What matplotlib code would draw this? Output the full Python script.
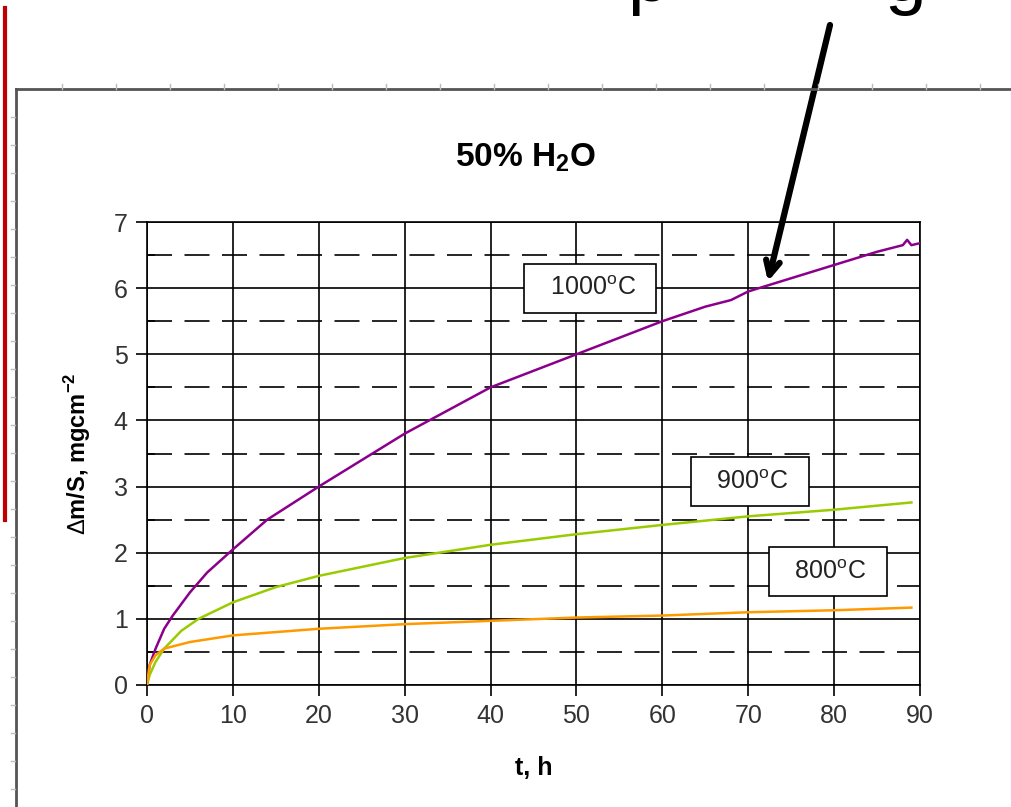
import matplotlib.pyplot as plt
from matplotlib.lines import Line2D
from matplotlib.ticker import MultipleLocator

plt.rcParams['font.family'] = ['Liberation Sans', 'DejaVu Sans']
plt.rcParams['lines.scale_dashes'] = False
plt.rcParams['mathtext.fontset'] = 'custom'
plt.rcParams['mathtext.rm'] = 'Liberation Sans'
plt.rcParams['mathtext.bf'] = 'Liberation Sans:bold'

# Données (t en h, gain de masse en mg/cm2)
t_1000 = [0, 0.3, 1, 2, 3, 5, 7, 10, 14, 20, 25, 30, 35, 40, 45, 50, 55, 60,
          65, 68, 70, 75, 80, 85, 88, 88.5, 89, 90]
m_1000 = [0, 0.3, 0.55, 0.85, 1.05, 1.4, 1.7, 2.05, 2.5, 3.0, 3.4, 3.8, 4.15,
          4.5, 4.75, 5.0, 5.25, 5.5, 5.72, 5.82, 5.95, 6.15, 6.35, 6.55, 6.65,
          6.73, 6.65, 6.68]

t_900 = [0, 0.3, 1, 2, 4, 6, 10, 15, 20, 30, 40, 50, 60, 70, 80, 89]
m_900 = [0, 0.15, 0.35, 0.55, 0.82, 1.0, 1.25, 1.48, 1.65, 1.92, 2.12, 2.28,
         2.42, 2.55, 2.65, 2.76]

t_800 = [0, 0.3, 1, 2, 5, 10, 20, 30, 40, 50, 60, 70, 80, 89]
m_800 = [0, 0.3, 0.45, 0.55, 0.65, 0.75, 0.85, 0.92, 0.97, 1.02, 1.05, 1.1,
         1.13, 1.17]

series = [
    (t_1000, m_1000, '#8B008B', '  1000$^{\\mathrm{o}}$C  ', 51.6, 6.0),
    (t_900, m_900, '#99CC00', '  900$^{\\mathrm{o}}$C  ', 70.2, 3.07),
    (t_800, m_800, '#FF9900', '  800$^{\\mathrm{o}}$C  ', 79.3, 1.71),
]

fig = plt.figure(figsize=(10.12, 8.07), dpi=100)
ax = fig.add_axes([147 / 1012, 1 - 685 / 807, 773 / 1012, 463 / 807])

# Grille : traits pleins aux valeurs entières, tirets aux demi-valeurs
ax.set_xlim(0, 90)
ax.set_ylim(0, 7)
ax.xaxis.set_major_locator(MultipleLocator(10))
ax.yaxis.set_major_locator(MultipleLocator(1))
ax.yaxis.set_minor_locator(MultipleLocator(0.5))
ax.grid(True, which='major', color='black', linewidth=1.2)
ax.grid(True, which='minor', axis='y', color='black', linewidth=1.2,
        dashes=(18, 9))
ax.set_axisbelow(True)

for x, y, c, lab, lx, ly in series:
    ax.plot(x, y, color=c, linewidth=1.8, zorder=3)
    ax.text(lx, ly, lab, fontsize=18, color='#222222', ha='center',
            va='center', zorder=5,
            bbox=dict(boxstyle='square,pad=0.5', facecolor='white',
                      edgecolor='black', linewidth=1.2))

for s in ax.spines.values():
    s.set_color('black')
    s.set_linewidth(1.2)

ax.tick_params(axis='both', which='major', direction='out', length=8,
               width=1.2, labelsize=18, labelcolor='#333333', pad=6)
ax.tick_params(axis='y', which='minor', direction='in', length=6, width=1.2)

ax.set_title('50% H$_{\\mathbf{2}}$O', fontsize=24, fontweight='bold', pad=40,
             x=0.49)
ax.set_xlabel('t, h', fontsize=18, fontweight='bold', labelpad=20)
ax.set_ylabel('$\\Delta$m/S, mgcm$^{\\mathbf{-2}}$', fontsize=17,
              fontweight='bold', labelpad=15)

# Cadre de la zone graphique (capture d'écran Excel)
W, H = 1012, 807
def px(x, y):
    return x / W, 1 - y / H

fig.add_artist(Line2D([16 / W, 1], [1 - 89 / H, 1 - 89 / H], color='#555555',
                      linewidth=2, transform=fig.transFigure))
fig.add_artist(Line2D([16 / W, 16 / W], [0, 1 - 89 / H], color='#555555',
                      linewidth=2, transform=fig.transFigure))
for xt in range(62, W, 54):
    fig.add_artist(Line2D([xt / W, xt / W], [1 - 89 / H, 1 - 84 / H],
                          color='#BBBBBB', linewidth=1,
                          transform=fig.transFigure))
for yt in range(117, H, 28):
    fig.add_artist(Line2D([11 / W, 15 / W], [1 - yt / H, 1 - yt / H],
                          color='#BBBBBB', linewidth=1,
                          transform=fig.transFigure))
fig.add_artist(Line2D([5 / W, 5 / W], [1 - 8 / H, 1 - 520 / H],
                      color='#C00000', linewidth=3,
                      transform=fig.transFigure))

# Texte coupé en haut (seuls les jambages sont visibles) et flèche
fig.text(627 / W, 1 - 1 / H, 'p', fontsize=54, ha='left', va='baseline')
fig.text(906 / W, 1 - 1 / H, 'g', fontsize=54, ha='center', va='baseline')
ax.annotate('', xy=(72.3, 6.1), xycoords='data', xytext=px(830, 25),
            textcoords='figure fraction', annotation_clip=False,
            arrowprops=dict(arrowstyle='->,head_length=1.0,head_width=0.5',
                            color='black', linewidth=4.5,
                            shrinkA=0, shrinkB=0))

fig.savefig('out.png', dpi=100)
